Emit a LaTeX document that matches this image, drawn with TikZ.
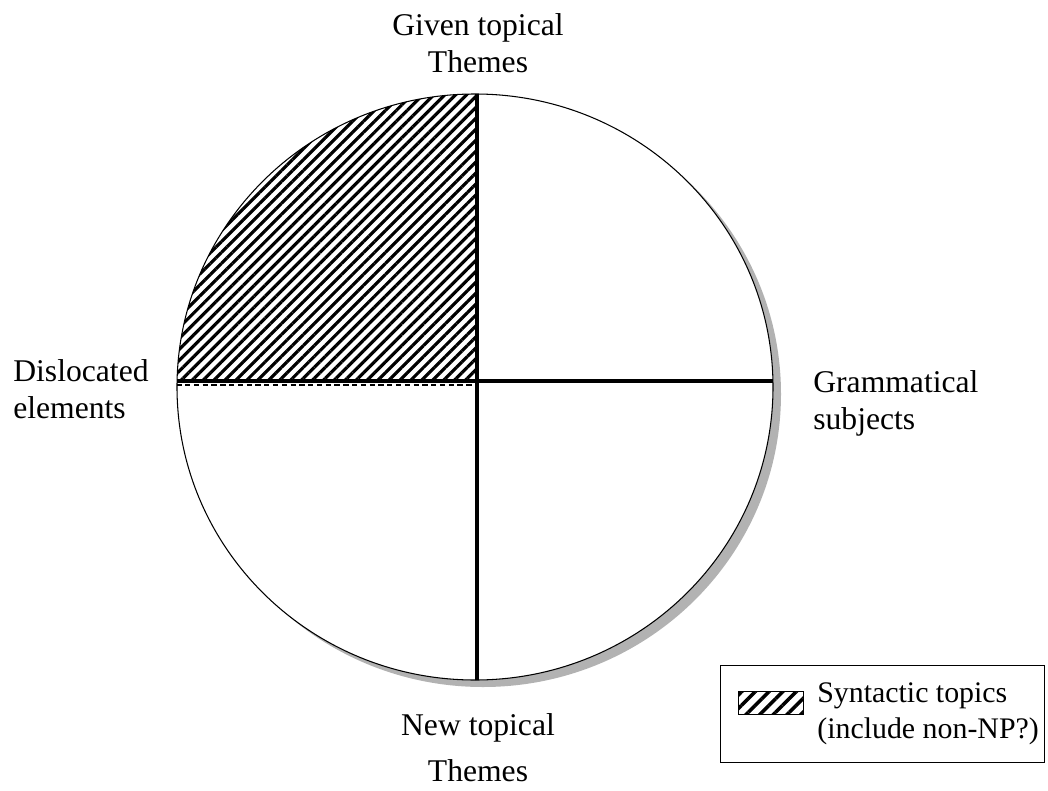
\documentclass[tikz,border=0pt]{standalone}
\usepackage{fontspec}
\setmainfont{Liberation Serif}
\usetikzlibrary{patterns.meta}

\begin{document}
\begin{tikzpicture}[
        x=0.02cm, y=-0.02cm,
        txt/.style={inner sep=0pt, font=\fontsize{18}{21}\selectfont},
        hatch/.style={pattern={Lines[angle=45, distance=4.4pt, line width=1.8pt]}},
        divider/.style={line width=1.8pt},
        rim/.style={line width=0.6pt}
    ]
        \useasboundingbox (0,0) rectangle (1048,791);
        \coordinate (c) at (475,387);
        \coordinate (mid) at (477,381);

        % Pie with shadow
        \fill[gray!60] ([shift={(8,7)}]c) ellipse [x radius=298, y radius=293];
        \fill[white] (c) ellipse [x radius=298, y radius=293];
        \begin{scope}
            \clip (c) ellipse [x radius=298, y radius=293];
            \fill[hatch] (mid) rectangle (150,60);
            \draw[line width=0.8pt, dash pattern=on 3pt off 2pt] (150,385) -- (mid |- 0,385);
            \draw[divider] (mid |- 0,60) -- (mid |- 0,720);
            \draw[divider] (150,381) -- (800,381);
        \end{scope}
        \draw[rim] (c) ellipse [x radius=298, y radius=293];

        % Quadrant labels (base = last line)
        \node[txt, align=center, anchor=base] (given) at (478,72) {Given topical\\Themes};
        \node[txt, align=left, anchor=base west] (disloc) at (13,418) {Dislocated\\elements};
        \node[txt, align=left, anchor=base west] (gramm) at (813,429) {Grammatical\\subjects};
        \node[txt, align=center, anchor=base] (newth) at (478,781) {New topical\\[5pt]Themes};

        % Legend
        \node[draw, line width=0.6pt, inner sep=0pt, minimum width=6.48cm, minimum height=1.94cm, anchor=north west] (legend) at (720,665) {};
        \node[draw, line width=0.8pt, inner sep=0pt, minimum width=1.3cm, minimum height=0.46cm, anchor=north west,
              pattern={Lines[angle=45, distance=5.5pt, line width=2pt]}] (swatch) at (737,690) {};
        \node[txt, font=\fontsize{17}{20}\selectfont, align=left, anchor=base west] (legtext) at (817,738) {Syntactic topics\\(include non-NP?)};
    \end{tikzpicture}
\end{document}
